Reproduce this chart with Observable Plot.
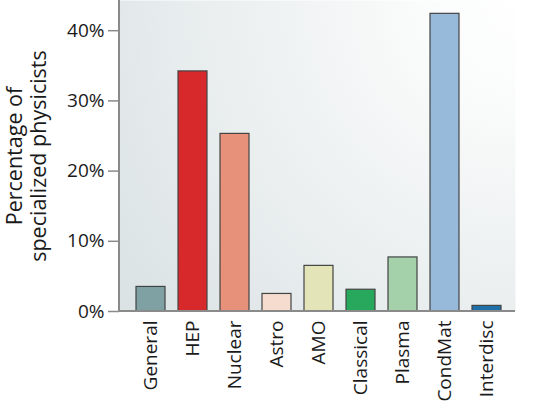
<!DOCTYPE html>
<html>
<head>
<meta charset="utf-8">
<script src="https://cdn.jsdelivr.net/npm/d3@7"></script>
<script src="https://cdn.jsdelivr.net/npm/@observablehq/plot@0.6"></script>
<style>
  html, body { margin: 0; padding: 0; background: #ffffff; }
  #chart { width: 534px; height: 412px; }
</style>
</head>
<body>
<div id="chart"></div>
<script>
const categories = ["General", "HEP", "Nuclear", "Astro", "AMO", "Classical", "Plasma", "CondMat", "Interdisc"];
const values = [3.5, 34.2, 25.3, 2.5, 6.5, 3.1, 7.7, 42.4, 0.8];
const colors = ["#7fa1a3", "#d7282b", "#e8917a", "#f5dccf", "#e3e4b8", "#27a85c", "#a4d1aa", "#97b9da", "#1f6fa8"];
const yTicks = [0, 10, 20, 30, 40];
const yLabel = "Percentage of\nspecialized physicists";

const data = categories.map((c, i) => ({category: c, value: values[i], color: colors[i]}));
const font = "Open Sans, sans-serif";

const axisLines = (index, scales, values, dims) => {
  const g = d3.create("svg:g");
  const x0 = dims.marginLeft, x1 = dims.width - dims.marginRight;
  const y0 = dims.marginTop, y1 = dims.height - dims.marginBottom;
  g.append("line").attr("x1", x0).attr("x2", x0).attr("y1", y0).attr("y2", y1)
    .attr("stroke", "#8a8a8a").attr("stroke-width", 2);
  g.append("line").attr("x1", x0).attr("x2", x1).attr("y1", y1).attr("y2", y1)
    .attr("stroke", "#8a8a8a").attr("stroke-width", 2);
  return g.node();
};

const chart = Plot.plot({
  width: 534,
  height: 412,
  marginLeft: 119,
  marginRight: 19,
  marginTop: 0,
  marginBottom: 101,
  style: {fontFamily: font, background: "#ffffff", color: "#1a1a1a"},
  x: {domain: categories, paddingInner: 0.32, paddingOuter: 0, insetLeft: 13, insetRight: 11, label: null},
  y: {domain: [0, 44.3], label: null},
  marks: [
    Plot.frame({fill: "url(#bggrad)", stroke: "none"}),
    Plot.barY(data, {x: "category", y: "value", fill: "color", stroke: "#444", strokeWidth: 1.2}),
    Plot.axisY({ticks: yTicks, tickFormat: d => d + "%", tickSize: 11, tickPadding: 4, fontSize: 19, stroke: "#8a8a8a", strokeWidth: 1.5}),
    Plot.axisX({tickRotate: -90, tickSize: 0, tickPadding: 9, fontSize: 19, label: null}),
    axisLines,
    Plot.text([yLabel], {frameAnchor: "left", textAnchor: "middle", dx: -93, rotate: -90, fontSize: 21.5, lineHeight: 1.12, lineAnchor: "middle", fill: "#1a1a1a"})
  ]
});

const svg = d3.select(chart);
const defs = svg.insert("defs", ":first-child");
const grad = defs.append("radialGradient").attr("id", "bggrad")
  .attr("gradientUnits", "userSpaceOnUse").attr("cx", 520).attr("cy", 0).attr("r", 520);
grad.append("stop").attr("offset", 0).attr("stop-color", "#ffffff");
grad.append("stop").attr("offset", 0.2).attr("stop-color", "#fafbfb");
grad.append("stop").attr("offset", 1).attr("stop-color", "#d9e1e3");

document.getElementById("chart").appendChild(chart);
</script>
</body>
</html>
